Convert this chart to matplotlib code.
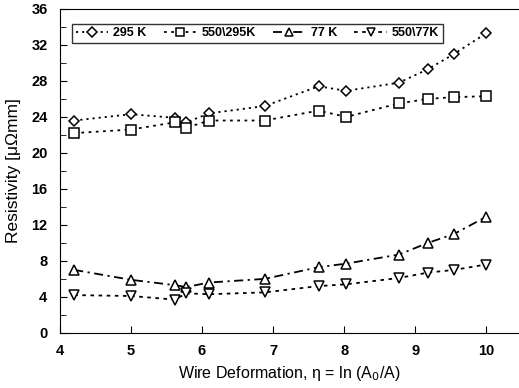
import matplotlib
matplotlib.use("Agg")
import matplotlib.pyplot as plt
from matplotlib.ticker import MultipleLocator

eta = [4.2, 5.0, 5.62, 5.78, 6.1, 6.88, 7.64, 8.03, 8.77, 9.18, 9.55, 10.0]
r295 = [23.6, 24.3, 23.9, 23.4, 24.4, 25.2, 27.4, 26.9, 27.8, 29.3, 31.0, 33.3]
r550_295 = [22.2, 22.6, 23.4, 22.8, 23.6, 23.6, 24.7, 24.0, 25.5, 26.0, 26.2, 26.3]
r77 = [7.0, 5.9, 5.3, 5.1, 5.6, 6.0, 7.3, 7.7, 8.7, 10.0, 11.0, 12.9]
r550_77 = [4.2, 4.1, 3.7, 4.4, 4.3, 4.5, 5.2, 5.4, 6.1, 6.7, 7.0, 7.6]

labels = ["295 K", "550\\295K", "77 K", "550\\77K"]

plt.rcParams['font.family'] = ['Liberation Sans', 'DejaVu Sans']

fig = plt.figure(figsize=(5.19, 3.88), dpi=100)
ax = fig.add_axes([0.1156, 0.142, 0.884, 0.835])

kw = dict(color='black', markerfacecolor='white', markeredgecolor='black',
          markeredgewidth=1.1, linewidth=1.3)
ax.plot(eta, r295, linestyle=(0, (1.2, 2.2)), marker='D', markersize=5.5, **kw, label=labels[0])
ax.plot(eta, r550_295, linestyle=(0, (1.5, 2.5)), marker='s', markersize=6.5, **kw, label=labels[1])
ax.plot(eta, r77, linestyle=(0, (5, 2.5, 1.2, 2.5)), marker='^', markersize=7, **kw, label=labels[2])
ax.plot(eta, r550_77, linestyle=(0, (2, 2.5)), marker='v', markersize=7, **kw, label=labels[3])

ax.set_xlim(4, 10.46)
ax.set_ylim(0, 36)
ax.xaxis.set_major_locator(MultipleLocator(1))
ax.yaxis.set_major_locator(MultipleLocator(4))
ax.yaxis.set_minor_locator(MultipleLocator(2))
ax.tick_params(axis='both', which='both', direction='in', top=False, right=False)
ax.tick_params(axis='both', which='major', length=5, labelsize=10.5)
ax.tick_params(axis='x', which='major', pad=8)
ax.tick_params(axis='y', which='major', pad=9)
ax.tick_params(axis='y', which='minor', length=4)
for lbl in ax.get_xticklabels() + ax.get_yticklabels():
    lbl.set_fontweight('bold')
ax.spines['right'].set_visible(False)

ax.set_xlabel(r'Wire Deformation, η = ln (A$_0$/A)', fontsize=11.5, labelpad=4)
ax.set_ylabel('Resistivity [μΩmm]', fontsize=12.5, labelpad=7)

leg = ax.legend(loc='upper left', bbox_to_anchor=(0.026, 0.955), ncol=4,
                frameon=True, fancybox=False, edgecolor='black',
                prop={'weight': 'bold', 'size': 9}, handlelength=2.6,
                columnspacing=1.4, handletextpad=0.4, borderpad=0.3,
                borderaxespad=0.0, markerscale=0.85)
leg.get_frame().set_linewidth(1.0)

fig.savefig('out.png', dpi=100)
